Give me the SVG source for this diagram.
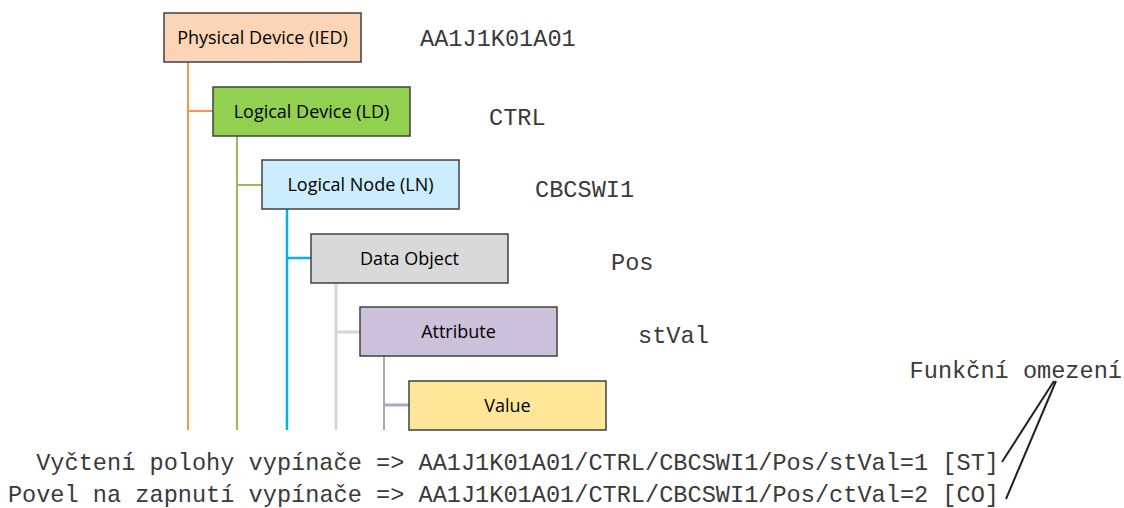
<svg xmlns="http://www.w3.org/2000/svg" width="1124" height="508" viewBox="0 0 1124 508">
<style>
.box{stroke:#404040;stroke-width:1.5}
.bt{font-family:"Open Sans","Liberation Sans",sans-serif;font-size:18px;fill:#000;text-anchor:middle}
.mono{font-family:"Liberation Mono","DejaVu Sans Mono",monospace;font-size:23.6px;fill:#3a3a3a}
.c{fill:none}
</style>
<rect width="1124" height="508" fill="#fff"/>
<g id="connectors" class="c">
<path d="M188 62V430M188 111H213" stroke="#F79646" stroke-width="2"/>
<path d="M237 136V430M237 185H262" stroke="#9BBB59" stroke-width="2"/>
<path d="M287 209V430M287 258H311" stroke="#00B0F0" stroke-width="2.5"/>
<path d="M336 283V430M336 332H360" stroke="#D6D6D6" stroke-width="3"/>
<path d="M384 356V430" stroke="#B3A2C7" stroke-width="2"/>
<path d="M384 405H409" stroke="#B3A2C7" stroke-width="3"/>
<path d="M1054 381L1002 462M1056 381L1006 499" stroke="#222" stroke-width="2"/>
</g>
<g id="physical-device">
<rect class="box" x="164" y="13" width="197" height="49" fill="#FBD5B5"/>
<text class="bt" x="262.5" y="43.5">Physical Device (IED)</text>
</g>
<g id="logical-device">
<rect class="box" x="213" y="87" width="197" height="49" fill="#92D050"/>
<text class="bt" x="311.5" y="117.5">Logical Device (LD)</text>
</g>
<g id="logical-node">
<rect class="box" x="262" y="160" width="197" height="49" fill="#CCEDFD"/>
<text class="bt" x="360.5" y="190.5">Logical Node (LN)</text>
</g>
<g id="data-object">
<rect class="box" x="311" y="234" width="197" height="49" fill="#D9D9D9"/>
<text class="bt" x="409.5" y="264.5">Data Object</text>
</g>
<g id="attribute">
<rect class="box" x="360" y="307" width="197" height="49" fill="#CCC1DA"/>
<text class="bt" x="458.5" y="337.5">Attribute</text>
</g>
<g id="value">
<rect class="box" x="409" y="381" width="197" height="49" fill="#FFE699"/>
<text class="bt" x="507.5" y="411.5">Value</text>
</g>
<g id="labels">
<text class="mono" x="420" y="46">AA1J1K01A01</text>
<text class="mono" x="489" y="125">CTRL</text>
<text class="mono" x="535" y="197">CBCSWI1</text>
<text class="mono" x="611" y="270">Pos</text>
<text class="mono" x="638" y="343">stVal</text>
<text class="mono" x="1122" y="378" text-anchor="end">Funkční omezení</text>
<text class="mono" x="999" y="470" text-anchor="end">Vyčtení polohy vypínače =&gt; AA1J1K01A01/CTRL/CBCSWI1/Pos/stVal=1 [ST]</text>
<text class="mono" x="999" y="502" text-anchor="end">Povel na zapnutí vypínače =&gt; AA1J1K01A01/CTRL/CBCSWI1/Pos/ctVal=2 [CO]</text>
</g>
</svg>
